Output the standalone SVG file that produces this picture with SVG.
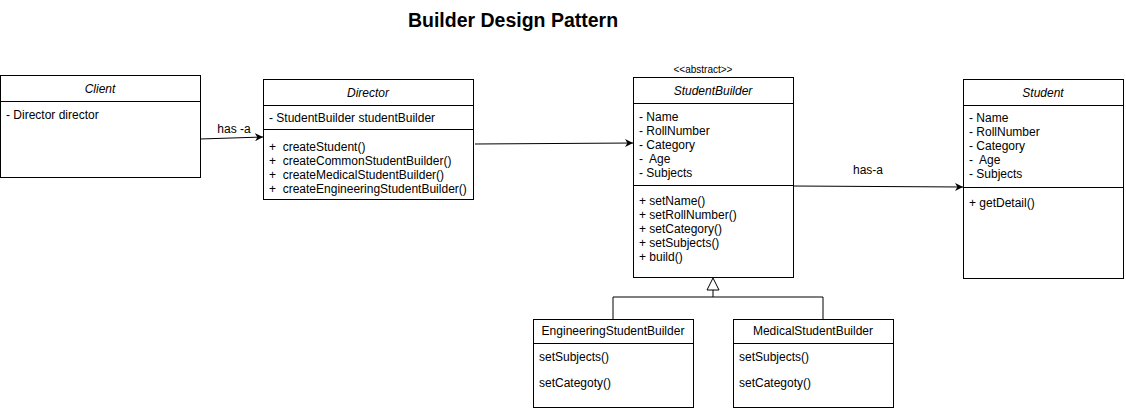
<svg xmlns="http://www.w3.org/2000/svg" width="1126" height="408" viewBox="0 0 1126 408">
<defs>
<style>
text{font-family:"Liberation Sans",Arial,sans-serif;font-size:12px;fill:#000;white-space:pre}
.t{font-style:italic;text-anchor:middle}
.c{text-anchor:middle}
.box{fill:#fff;stroke:#000;stroke-width:1}
.ln{stroke:#000;stroke-width:1;fill:none}
</style>
<marker id="arr" viewBox="0 0 10 10" refX="10" refY="5" markerWidth="8" markerHeight="8" markerUnits="userSpaceOnUse" orient="auto">
<path d="M0,0 L10,5 L0,10 L3,5 Z" fill="#000"/>
</marker>
</defs>
<rect width="1126" height="408" fill="#fff"/>
<text x="513" y="27" style="font-size:19.5px;font-weight:bold" class="c">Builder Design Pattern</text>
<g id="connectors">
<line class="ln" x1="200" y1="139" x2="263" y2="137" marker-end="url(#arr)"/>
<text x="234" y="133" class="c">has -a</text>
<line class="ln" x1="475" y1="144" x2="633" y2="143" marker-end="url(#arr)"/>
<line class="ln" x1="793" y1="186" x2="963" y2="187" marker-end="url(#arr)"/>
<text x="868" y="174" class="c">has-a</text>
<polyline class="ln" points="613,319 613,297 823,297 823,319"/>
<line class="ln" x1="713" y1="297" x2="713" y2="290"/>
<polygon points="713,278 707,290 719,290" fill="#fff" stroke="#000"/>
</g>
<g id="client">
<rect class="box" x="0.5" y="75.5" width="200" height="102"/>
<line class="ln" x1="0.5" y1="101.5" x2="200.5" y2="101.5"/>
<text x="100" y="93" class="t">Client</text>
<text x="6" y="119">- Director director</text>
</g>
<g id="director">
<rect class="box" x="263.5" y="79.5" width="210" height="120"/>
<line class="ln" x1="263.5" y1="105.5" x2="473.5" y2="105.5"/>
<line class="ln" x1="263.5" y1="129.5" x2="473.5" y2="129.5"/>
<text x="368" y="97" class="t">Director</text>
<text x="269" y="122">- StudentBuilder studentBuilder</text>
<text x="269" y="151" xml:space="preserve">+  createStudent()</text>
<text x="269" y="165" xml:space="preserve">+  createCommonStudentBuilder()</text>
<text x="269" y="179" xml:space="preserve">+  createMedicalStudentBuilder()</text>
<text x="269" y="193" xml:space="preserve">+  createEngineeringStudentBuilder()</text>
</g>
<g id="studentbuilder">
<text x="703" y="73" class="c" style="font-size:10px">&lt;&lt;abstract&gt;&gt;</text>
<rect class="box" x="633.5" y="77.5" width="160" height="200"/>
<line class="ln" x1="633.5" y1="103.5" x2="793.5" y2="103.5"/>
<line class="ln" x1="633.5" y1="185.5" x2="793.5" y2="185.5"/>
<text x="713" y="95" class="t">StudentBuilder</text>
<text x="639" y="121">- Name</text>
<text x="639" y="135">- RollNumber</text>
<text x="639" y="149">- Category</text>
<text x="639" y="163" xml:space="preserve">-  Age</text>
<text x="639" y="177">- Subjects</text>
<text x="639" y="205">+ setName()</text>
<text x="639" y="219">+ setRollNumber()</text>
<text x="639" y="233">+ setCategory()</text>
<text x="639" y="247">+ setSubjects()</text>
<text x="639" y="261">+ build()</text>
</g>
<g id="student">
<rect class="box" x="963.5" y="79.5" width="160" height="199"/>
<line class="ln" x1="963.5" y1="105.5" x2="1123.5" y2="105.5"/>
<line class="ln" x1="963.5" y1="187.5" x2="1123.5" y2="187.5"/>
<text x="1043" y="97" class="t">Student</text>
<text x="969" y="122">- Name</text>
<text x="969" y="136">- RollNumber</text>
<text x="969" y="150">- Category</text>
<text x="969" y="164" xml:space="preserve">-  Age</text>
<text x="969" y="178">- Subjects</text>
<text x="969" y="207">+ getDetail()</text>
</g>
<g id="engineering">
<rect class="box" x="533.5" y="319.5" width="160" height="88"/>
<line class="ln" x1="533.5" y1="343.5" x2="693.5" y2="343.5"/>
<text x="613" y="335" class="c">EngineeringStudentBuilder</text>
<text x="539" y="361">setSubjects()</text>
<text x="539" y="387">setCategoty()</text>
</g>
<g id="medical">
<rect class="box" x="733.5" y="319.5" width="160" height="88"/>
<line class="ln" x1="733.5" y1="343.5" x2="893.5" y2="343.5"/>
<text x="813" y="335" class="c">MedicalStudentBuilder</text>
<text x="739" y="361">setSubjects()</text>
<text x="739" y="387">setCategoty()</text>
</g>
</svg>
